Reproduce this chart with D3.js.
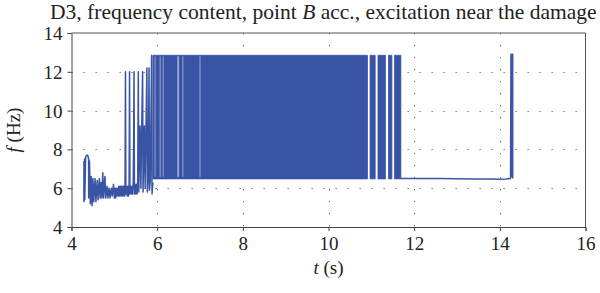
<!DOCTYPE html>
<html>
<head>
<meta charset="utf-8">
<script src="https://cdn.jsdelivr.net/npm/d3@7"></script>
<style>
  body { margin: 0; background: #fff; }
  text { font-family: "Liberation Serif", "DejaVu Serif", serif; fill: #222; }
</style>
</head>
<body>
<div id="chart"></div>
<script>
// Frequency trace (t in s, f in Hz)
const traceT = [4.29, 4.29, 4.305, 4.31, 4.33, 4.35, 4.38, 4.40, 4.40, 4.42, 4.43, 4.44, 4.46, 4.48, 4.50, 4.52,
  4.55, 4.57, 4.60, 4.62, 4.65, 4.67, 4.69, 4.71, 4.73, 4.75, 4.78, 4.80, 4.83, 4.85, 4.88, 4.90,
  4.93, 4.95, 4.98, 5.00, 5.015, 5.03, 5.045, 5.06, 5.075, 5.09, 5.105, 5.12, 5.135, 5.15, 5.165, 5.18,
  5.195, 5.21, 5.225, 5.24, 5.25, 5.26, 5.27, 5.285, 5.30, 5.315, 5.33, 5.345, 5.355, 5.365, 5.38, 5.395,
  5.41, 5.425, 5.44, 5.45, 5.46, 5.47, 5.485, 5.50, 5.515, 5.53, 5.545, 5.56, 5.57, 5.60, 5.62, 5.64,
  5.66, 5.67, 5.70, 5.72, 5.74, 5.76, 5.77, 5.79, 5.81, 5.82, 5.84, 5.87, 5.88, 5.90];
const traceF = [7.4, 5.3, 7.5, 5.4, 7.6, 7.7, 7.7, 7.5, 5.5, 7.4, 6.3, 5.2, 6.6, 5.1, 6.5, 5.3,
  6.5, 5.3, 6.4, 5.4, 6.5, 5.5, 6.3, 5.5, 6.8, 5.5, 6.6, 5.5, 6.1, 5.5, 6.0, 5.5,
  6.0, 5.6, 6.2, 5.5, 6.0, 5.5, 6.0, 5.6, 6.0, 5.6, 6.1, 5.6, 6.1, 5.6, 6.1, 5.6,
  6.1, 5.6, 6.1, 5.6, 6.1, 12.0, 5.7, 6.1, 5.6, 6.1, 5.6, 6.1, 12.0, 5.7, 6.1, 5.7,
  6.1, 5.7, 6.2, 8.2, 12.0, 5.7, 6.2, 5.7, 6.2, 5.7, 6.2, 12.0, 5.8, 9.2, 6.0, 9.2,
  12.0, 5.8, 9.2, 6.0, 9.3, 12.2, 5.8, 6.5, 12.2, 5.9, 6.4, 12.85, 5.7, 6.3];

// Trace after the switching stops
const tailT = [11.69, 12.2, 12.6, 13.0, 13.4, 13.6, 13.8, 14.0, 14.15, 14.25, 14.26, 14.275, 14.285, 14.30, 14.30];
const tailF = [6.5, 6.5, 6.5, 6.49, 6.48, 6.47, 6.48, 6.46, 6.47, 6.5, 12.9, 6.6, 12.9, 12.9, 6.5];

// Blocks where the estimate jumps rapidly between the two levels
const bandStart = [5.90, 10.97, 11.155, 11.40, 11.54];
const bandEnd = [10.91, 11.09, 11.33, 11.48, 11.69];
const bandLow = 6.48, bandHigh = 12.85;
// thin gaps inside the dense block
const gapT = [5.95, 6.07, 6.14, 6.48, 6.50, 6.60, 7.00];

const xTicks = [4, 6, 8, 10, 12, 14, 16];
const yTicks = [4, 6, 8, 10, 12, 14];

const W = 600, H = 293;
const margin = {top: 33, right: 14.5, bottom: 66, left: 71.5};
const blue = "#3a54a5";

const svg = d3.select("#chart").append("svg").attr("width", W).attr("height", H);

const x = d3.scaleLinear().domain([4, 16]).range([margin.left, W - margin.right]);
const y = d3.scaleLinear().domain([4, 14]).range([H - margin.bottom, margin.top]);

// Grid
const grid = svg.append("g").attr("stroke", "#666").attr("stroke-width", 1).attr("stroke-dasharray", "1.3,10.7");
grid.selectAll(".gx").data(xTicks.slice(1, -1)).join("line")
  .attr("x1", d => Math.round(x(d)) + 0.5).attr("x2", d => Math.round(x(d)) + 0.5)
  .attr("y1", y(14)).attr("y2", y(4));
grid.selectAll(".gy").data(yTicks.slice(1, -1)).join("line")
  .attr("y1", d => Math.round(y(d)) + 0.5).attr("y2", d => Math.round(y(d)) + 0.5)
  .attr("x1", x(4)).attr("x2", x(16));

// Dense blocks
const bands = d3.range(bandStart.length).map(i => [bandStart[i], bandEnd[i]]);
const area = d3.area().x(d => x(d)).y0(y(bandLow)).y1(y(bandHigh));
svg.append("g").selectAll("path").data(bands).join("path")
  .attr("d", d => area(d))
  .attr("fill", blue).attr("stroke", blue).attr("stroke-width", 0.8);

svg.append("g").selectAll("line").data(gapT).join("line")
  .attr("x1", d => x(d)).attr("x2", d => x(d))
  .attr("y1", y(bandHigh) + 1).attr("y2", y(bandLow) - 2)
  .attr("stroke", "#fff").attr("stroke-opacity", 0.6).attr("stroke-width", 0.8);

// Trace lines
const line = d3.line().x(d => x(d[0])).y(d => y(d[1]));
const trace = traceT.map((t, i) => [t, traceF[i]]);
const tail = tailT.map((t, i) => [t, tailF[i]]);
svg.append("g").selectAll("path").data([trace, tail]).join("path")
  .attr("d", line).attr("fill", "none")
  .attr("stroke", blue).attr("stroke-width", 1.5).attr("stroke-linejoin", "round");

// Axes
const xAxis = svg.append("g").attr("transform", `translate(0,${H - margin.bottom})`)
  .call(d3.axisBottom(x).tickValues(xTicks).tickSize(4).tickPadding(6).tickFormat(d3.format("d")));
const yAxis = svg.append("g").attr("transform", `translate(${margin.left},0)`)
  .call(d3.axisLeft(y).tickValues(yTicks).tickSize(4).tickPadding(5).tickFormat(d3.format("d")));
[xAxis, yAxis].forEach(a => {
  a.select(".domain").attr("stroke", "#444");
  a.selectAll(".tick line").attr("stroke", "#444");
  a.selectAll(".tick text").attr("font-family", "Liberation Serif").attr("font-size", 19).attr("fill", "#222");
});
yAxis.selectAll(".tick text").attr("dy", "0.34em");

// Box top/right
svg.append("path")
  .attr("d", `M${x(4)},${y(14)}H${x(16)}V${y(4)}`)
  .attr("fill", "none").attr("stroke", "#555");

// Labels
const title = svg.append("text").attr("x", 50).attr("y", 19).attr("font-size", 19)
  .text("D3, frequency content, point ");
title.append("tspan").attr("font-style", "italic").text("B");
title.append("tspan").text(" acc., excitation near the damage");
const tw = title.node().getComputedTextLength();
title.attr("font-size", 19 * 547 / tw);

const xl = svg.append("text").attr("x", (x(4) + x(16)) / 2).attr("y", 274)
  .attr("text-anchor", "middle").attr("font-size", 19);
xl.append("tspan").attr("font-style", "italic").text("t");
xl.append("tspan").text(" (s)");

const yl = svg.append("text")
  .attr("transform", `translate(20,${(y(4) + y(14)) / 2}) rotate(-90)`)
  .attr("text-anchor", "middle").attr("font-size", 19);
yl.append("tspan").attr("font-style", "italic").text("f");
yl.append("tspan").text(" (Hz)");
</script>
</body>
</html>
